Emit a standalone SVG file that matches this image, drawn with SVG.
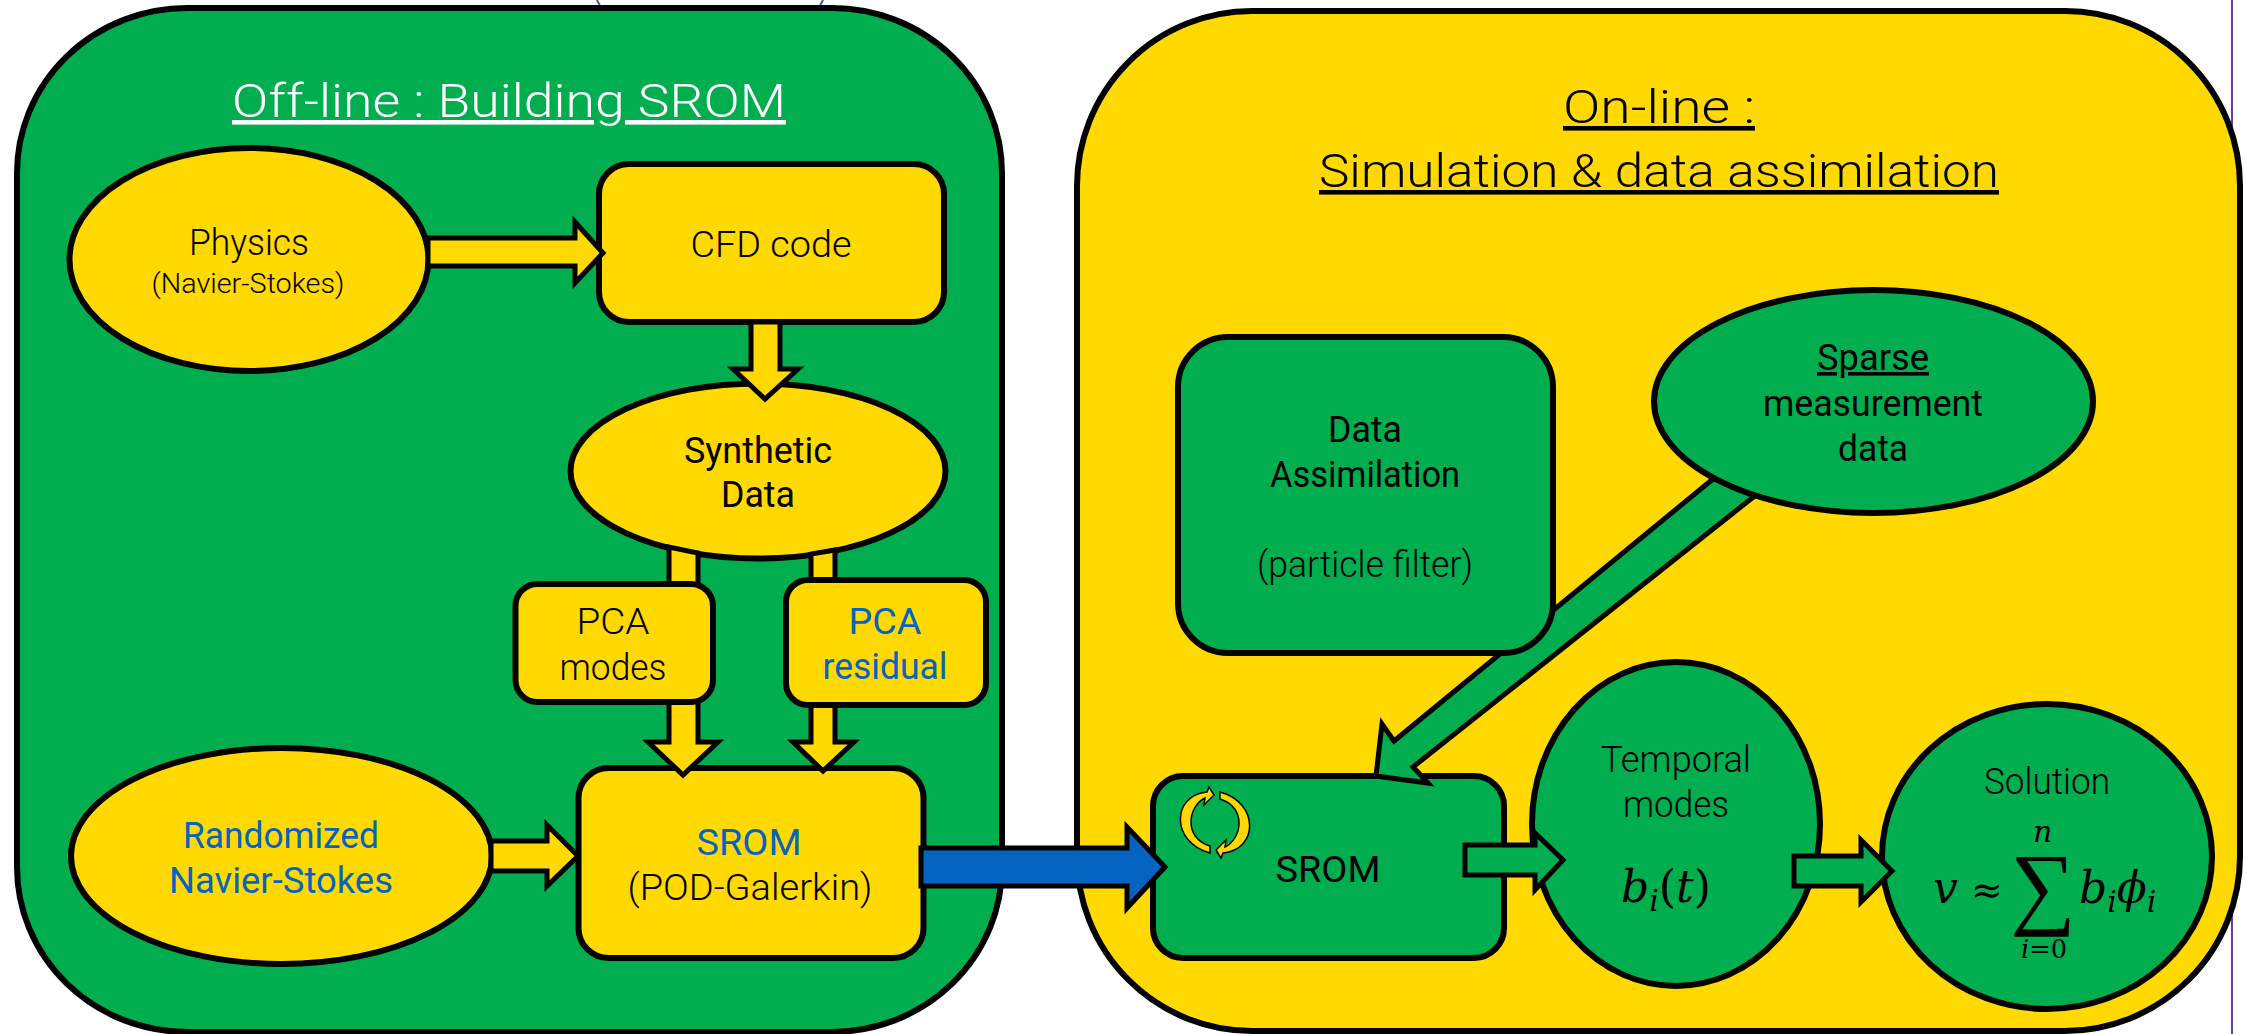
<svg xmlns="http://www.w3.org/2000/svg" width="2247" height="1034" viewBox="0 0 2247 1034">
<style>
text{font-family:"Roboto","Liberation Sans",sans-serif;font-weight:300;text-anchor:middle;fill:#000}
.n{stroke:#000;stroke-width:6}
.y{fill:#FFD900}
.g{fill:#00AE4F}
.u{text-decoration:underline}
.t{font-size:46px}
.m{font-size:36px}
.s{font-size:28px}
.r{font-weight:400}
.bl{fill:#0563C1;font-weight:400}
.wh{fill:#fff}
.a{stroke:#000;stroke-width:5;stroke-miterlimit:10}
.x{font-family:"DejaVu Serif",serif;font-style:italic;font-weight:400;text-anchor:start}
.c{stroke:#000;stroke-width:1.5;fill:#FFD900}
.p{fill:none;stroke:#6B3FA0;stroke-width:2}
</style>
<rect width="2247" height="1034" fill="#fff"/>
<path class="p" d="M597,0 Q598,3 600,5 M823,0 Q822,3 820,5 M2232,0 V1034"/>
<g id="panel-offline">
<rect class="n g" x="17" y="8" width="985" height="1024" rx="170" ry="165"/>
<text class="t wh u" x="509" y="117" textLength="554" lengthAdjust="spacingAndGlyphs">Off-line : Building SROM</text>
</g>
<g id="panel-online">
<rect class="n y" x="1077" y="11" width="1163" height="1020" rx="175" ry="175"/>
<text class="t u" x="1659" y="123" textLength="192" lengthAdjust="spacingAndGlyphs">On-line :</text>
<text class="t u" x="1659" y="187" textLength="680" lengthAdjust="spacingAndGlyphs">Simulation &amp; data assimilation</text>
</g>
<g id="node-physics">
<ellipse class="n y" cx="249" cy="259.500" rx="179.500" ry="111.500"/>
<text class="m" x="249" y="255" textLength="120" lengthAdjust="spacingAndGlyphs">Physics</text>
<text class="s" x="248" y="293" textLength="193" lengthAdjust="spacingAndGlyphs">(Navier-Stokes)</text>
</g>
<g id="node-cfd">
<rect class="n y" x="599" y="164" width="345" height="158" rx="30" ry="30"/>
<text class="m" x="771" y="257" textLength="161" lengthAdjust="spacingAndGlyphs">CFD code</text>
</g>
<g id="node-synthetic">
<ellipse class="n y" cx="758" cy="471" rx="187.500" ry="87.500"/>
<text class="m r" x="758" y="463" textLength="148" lengthAdjust="spacingAndGlyphs">Synthetic</text>
<text class="m r" x="758" y="507" textLength="74" lengthAdjust="spacingAndGlyphs">Data</text>
</g>
<g id="node-rand">
<ellipse class="n y" cx="281.500" cy="856" rx="210.500" ry="108"/>
<text class="m bl" x="281" y="848" textLength="196" lengthAdjust="spacingAndGlyphs">Randomized</text>
<text class="m bl" x="281" y="893" textLength="224" lengthAdjust="spacingAndGlyphs">Navier-Stokes</text>
</g>
<g id="node-srom-offline">
<rect class="n y" x="578.500" y="768" width="345" height="190" rx="30" ry="30"/>
<text class="m bl" x="749" y="855" textLength="105" lengthAdjust="spacingAndGlyphs">SROM</text>
<text class="m" x="750" y="900" textLength="245" lengthAdjust="spacingAndGlyphs">(POD-Galerkin)</text>
</g>
<g id="node-srom-online">
<rect class="n g" x="1153" y="776" width="351" height="182" rx="30" ry="30"/>
<text class="m r" x="1328" y="882" textLength="105" lengthAdjust="spacingAndGlyphs">SROM</text>
<path class="c" d="M1209,787 L1214,795 L1204,805 L1205,798 C1188,806 1183,838 1210,846 L1210,853 C1170,842 1172,795 1207,792 Z"/>
<path class="c" d="M1221,858 L1216,850 L1226,840 L1225,847 C1242,839 1247,807 1220,799 L1220,792 C1260,803 1258,850 1223,853 Z"/>
</g>
<g id="node-temporal">
<ellipse class="n g" cx="1676" cy="824" rx="144" ry="162"/>
<text class="m" x="1676" y="772" textLength="150" lengthAdjust="spacingAndGlyphs">Temporal</text>
<text class="m" x="1676" y="817" textLength="106" lengthAdjust="spacingAndGlyphs">modes</text>
<text class="x" x="1621" y="902" font-size="44">b<tspan font-size="30" dy="9">i</tspan><tspan dy="-9" font-style="normal">(</tspan>t<tspan font-style="normal">)</tspan></text>
</g>
<g id="node-solution">
<ellipse class="n g" cx="2047" cy="856.500" rx="165" ry="152.500"/>
<text class="m" x="2047" y="794" textLength="126" lengthAdjust="spacingAndGlyphs">Solution</text>
<text class="x" x="1933" y="903" font-size="44">v</text>
<text class="x" x="1971" y="903" font-size="38" style="font-style:normal">≈</text>
<text font-family="Liberation Serif" x="2043" y="917" font-size="92" style="font-family:'Liberation Serif',serif;font-weight:400">∑</text>
<text class="x" x="2033" y="842" font-size="30">n</text>
<text class="x" x="2021" y="958" font-size="26" textLength="46" lengthAdjust="spacingAndGlyphs">i<tspan font-style="normal">=0</tspan></text>
<text class="x" x="2079" y="903" font-size="44">b<tspan font-size="30" dy="9">i</tspan><tspan dy="-9">ϕ</tspan><tspan font-size="30" dy="9">i</tspan></text>
</g>
<g id="connectors">
<polygon class="a y" points="428,238 575,238 575,222 603,253 575,283 575,266 428,266"/>
<polygon class="a y" points="751,322 751,369 733,369 765,399 798,369 780,369 780,322"/>
<polygon class="a y" points="669,547 669,742 648,742 683,775 718,742 698,742 698,553"/>
<polygon class="a y" points="811,554 811,742 793,742 823,771 854,742 835,742 835,550"/>
<polygon class="a y" points="491,841 547,841 547,825 578,856 547,886 547,871 491,871"/>
<polygon class="a" points="921,848 1127,848 1127,827 1165,867 1127,908 1127,886 921,886" fill="#0563C1"/>
<polygon class="a g" points="1730,465 1394,741 1382,724 1376,776 1428,783 1413,767 1771,483"/>
<polygon class="a g" points="1465,845 1535,845 1535,833 1563,860 1535,890 1535,875 1465,875"/>
<polygon class="a g" points="1794,856 1861,856 1861,840 1892,871 1861,902 1861,886 1794,886"/>
</g>
<g id="node-pca-modes">
<rect class="n y" x="515.500" y="584" width="197.500" height="118" rx="22" ry="22"/>
<text class="m" x="613" y="634" textLength="73" lengthAdjust="spacingAndGlyphs">PCA</text>
<text class="m" x="613" y="680" textLength="107" lengthAdjust="spacingAndGlyphs">modes</text>
</g>
<g id="node-pca-residual">
<rect class="n y" x="786" y="580" width="200" height="125" rx="22" ry="22"/>
<text class="m bl" x="885" y="634" textLength="73" lengthAdjust="spacingAndGlyphs">PCA</text>
<text class="m bl" x="885" y="679" textLength="125" lengthAdjust="spacingAndGlyphs">residual</text>
</g>
<g id="node-assimilation">
<rect class="n g" x="1178" y="337" width="375" height="316" rx="50" ry="50"/>
<text class="m r" x="1365" y="442" textLength="74" lengthAdjust="spacingAndGlyphs">Data</text>
<text class="m r" x="1365" y="487" textLength="190" lengthAdjust="spacingAndGlyphs">Assimilation</text>
<text class="m" x="1365" y="577" textLength="216" lengthAdjust="spacingAndGlyphs">(particle filter)</text>
</g>
<g id="node-sparse">
<ellipse class="n g" cx="1873.500" cy="401.500" rx="219.500" ry="111.500"/>
<text class="m r u" x="1873" y="370" textLength="112" lengthAdjust="spacingAndGlyphs">Sparse</text>
<text class="m r" x="1873" y="416" textLength="220" lengthAdjust="spacingAndGlyphs">measurement</text>
<text class="m r" x="1873" y="461" textLength="70" lengthAdjust="spacingAndGlyphs">data</text>
</g>
</svg>
